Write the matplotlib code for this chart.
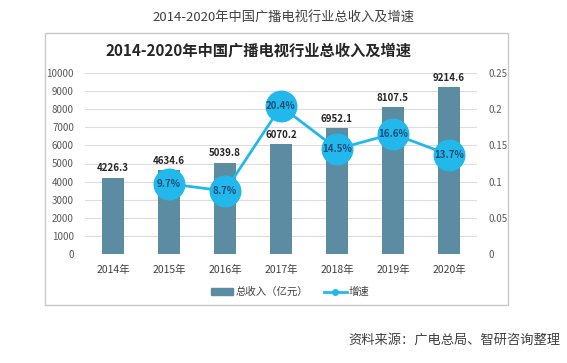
import matplotlib
matplotlib.use("Agg")
import matplotlib.pyplot as plt
from matplotlib.patches import Rectangle
from matplotlib.lines import Line2D
from matplotlib.patches import Patch

plt.rcParams['font.family'] = ['Noto Sans CJK SC', 'DejaVu Sans']

years = ["2014年", "2015年", "2016年", "2017年", "2018年", "2019年", "2020年"]
revenue = [4226.3, 4634.6, 5039.8, 6070.2, 6952.1, 8107.5, 9214.6]
growth_years = ["2015年", "2016年", "2017年", "2018年", "2019年", "2020年"]
growth = [0.097, 0.087, 0.204, 0.145, 0.166, 0.137]
growth_labels = ["9.7%", "8.7%", "20.4%", "14.5%", "16.6%", "13.7%"]
left_ticks = [0, 1000, 2000, 3000, 4000, 5000, 6000, 7000, 8000, 9000, 10000]
right_ticks = [0, 0.05, 0.1, 0.15, 0.2, 0.25]
right_tick_labels = ["0", "0.05", "0.1", "0.15", "0.2", "0.25"]

W, H = 567, 363
fig = plt.figure(figsize=(W / 100, H / 100), dpi=100)
fig.patch.set_facecolor("white")

# frame box
fig.patches.append(Rectangle((45 / W, 1 - 305 / H), (508 - 45) / W, (305 - 33) / H,
                             transform=fig.transFigure, fill=False,
                             edgecolor="#C8C8C8", linewidth=1.0))

fig.text(283 / W, 1 - 18 / H, "2014-2020年中国广播电视行业总收入及增速",
         ha="center", va="center", fontsize=9.5, color="#404040")
fig.text(258 / W, 1 - 50 / H, "2014-2020年中国广播电视行业总收入及增速",
         ha="center", va="center", fontsize=11, fontweight="bold", color="#262626")

ax = fig.add_axes([85 / W, 1 - 254 / H, (477 - 85) / W, (254 - 73) / H])
x = list(range(len(years)))
bar_color = "#5B8CA2"
ax.bar(x, revenue, width=0.39, color=bar_color, zorder=2)
for xi, v in zip(x, revenue):
    ax.text(xi, v + 250, f"{v:.1f}", ha="center", va="bottom", fontsize=7,
            fontweight="bold", color="#262626", zorder=5)
ax.set_ylim(0, 10000)
ax.set_xlim(-0.5, len(years) - 0.5)
ax.set_yticks(left_ticks)
ax.set_xticks(x)
ax.set_xticklabels(years)
ax.grid(axis="y", color="#DDDDDD", linewidth=0.8, zorder=0)
ax.set_axisbelow(True)
for s in ax.spines.values():
    s.set_visible(False)
ax.tick_params(axis="y", length=0, labelsize=7, labelcolor="#595959", pad=8)
ax.tick_params(axis="x", length=0, labelsize=7.5, labelcolor="#404040", pad=8)

ax2 = ax.twinx()
line_color = "#22B8EC"
gx = [years.index(g) for g in growth_years]
ax2.plot(gx, growth, color=line_color, linewidth=2, marker="o", markersize=22,
         markerfacecolor=line_color, markeredgecolor=line_color, zorder=4)
for xi, v, lab in zip(gx, growth, growth_labels):
    ax2.text(xi, v, lab, ha="center", va="center", fontsize=7, fontweight="bold",
             color="#1F4E79", zorder=6)
ax2.set_ylim(0, 0.25)
ax2.set_yticks(right_ticks)
ax2.set_yticklabels(right_tick_labels)
for s in ax2.spines.values():
    s.set_visible(False)
ax2.tick_params(axis="y", length=0, labelsize=7, labelcolor="#595959", pad=8)

handles = [Patch(facecolor=bar_color, edgecolor=bar_color),
           Line2D([0], [0], color=line_color, linewidth=2, marker="o", markersize=4)]
fig.legend(handles, ["总收入（亿元）", "增速"], loc="center", bbox_to_anchor=(290 / W, 1 - 292 / H),
           ncol=2, frameon=False, fontsize=7.5, handlelength=2.2, handleheight=0.6,
           columnspacing=1.5, handletextpad=0.2, labelcolor="#404040")

fig.text(560 / W, 1 - 340 / H, "资料来源：广电总局、智研咨询整理", ha="right", va="center",
         fontsize=9.5, color="#404040")

fig.savefig("out.png", dpi=100)
